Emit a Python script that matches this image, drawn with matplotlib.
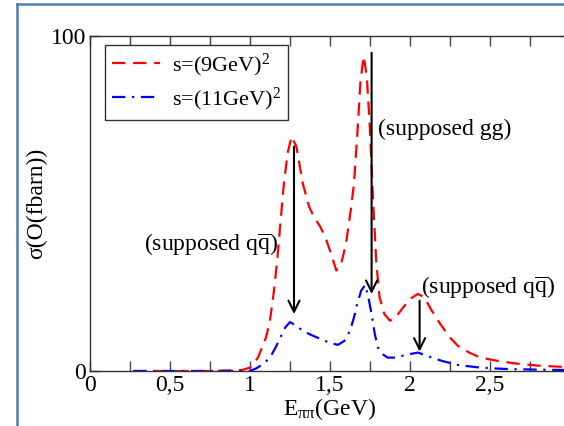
import numpy as np
import matplotlib
matplotlib.use('Agg')
from matplotlib import pyplot as plt
from matplotlib.lines import Line2D

# cross sections (fbarn) vs E_pipi (GeV)
x_9 = [0.27, 0.5, 0.75, 0.95, 1.0, 1.05, 1.1, 1.125, 1.15, 1.17, 1.19, 1.21, 1.235, 1.26,
       1.29, 1.33, 1.37, 1.40, 1.44, 1.47, 1.5, 1.54, 1.57, 1.6, 1.63, 1.65, 1.67, 1.69,
       1.71, 1.73, 1.75, 1.77, 1.79, 1.81, 1.84, 1.875, 1.91, 1.95, 2.0, 2.05, 2.09, 2.13,
       2.19, 2.25, 2.3, 2.37, 2.44, 2.55, 2.65, 2.8, 2.97]
y_9 = [0, 0, 0, 0.3, 1, 4, 10, 15, 24, 33, 44, 55, 65, 70,
       67, 56, 49, 46, 43, 40, 36, 30, 32, 38, 48, 56, 70, 86,
       94, 88, 72, 50, 32, 22, 17, 15, 16, 18.5, 21.5, 23, 22, 18.5,
       14, 10, 7.5, 5.5, 4, 3, 2.3, 1.6, 1.2]

x_11 = [0.27, 0.5, 0.75, 1.0, 1.04, 1.08, 1.125, 1.16, 1.19, 1.22, 1.25, 1.29, 1.33, 1.38,
        1.42, 1.47, 1.5, 1.55, 1.59, 1.625, 1.65, 1.67, 1.695, 1.72, 1.74, 1.76, 1.78, 1.8,
        1.83, 1.86, 1.92, 1.97, 2.05, 2.12, 2.2, 2.3, 2.44, 2.6, 2.8, 2.97]
y_11 = [0, 0, 0, 0, 0.8, 2, 4, 7, 10, 13, 14.6, 13.5, 12, 10.8,
        10, 9, 8.4, 7.8, 9, 12, 16, 20, 24, 25.7, 22, 17, 11, 7,
        5, 4, 4, 4.8, 5.5, 4.3, 3, 1.8, 1, 0.6, 0.4, 0.3]

labels = [r's=(9GeV)$^2$', r's=(11GeV)$^2$']
xtick_pos = [0, 0.5, 1, 1.5, 2, 2.5]
xtick_labels = ['0', '0,5', '1', '1,5', '2', '2,5']

# arrows: (x, y_start, y_tip)
arrows = [(1.275, 67, 17), (1.76, 95, 23), (2.06, 21, 5.8)]
notes = [(0.34, 36, r'(supposed q$\mathrm{\overline{q}}$)'),
         (1.8, 70.4, '(supposed gg)'),
         (2.07, 23.3, r'(supposed q$\mathrm{\overline{q}}$)')]

plt.rcParams['font.family'] = ['Liberation Serif', 'DejaVu Serif']
plt.rcParams['mathtext.fontset'] = 'custom'
plt.rcParams['mathtext.rm'] = 'Liberation Serif'
plt.rcParams['mathtext.it'] = 'Liberation Serif:italic'
plt.rcParams['font.size'] = 17

fig = plt.figure(figsize=(5.64, 4.26), dpi=100)
ax = fig.add_axes([90 / 564, 1 - 371 / 426, 480 / 564, 335 / 426])

ax.plot(x_9, y_9, color='red', lw=1.6, dashes=(6, 3.5), label=labels[0])
ax.plot(x_11, y_11, color='blue', lw=1.6, dashes=(6, 3, 1, 3), label=labels[1])

for xa, ys, yt in arrows:
    ax.annotate('', xy=(xa, yt), xytext=(xa, ys),
                arrowprops=dict(arrowstyle='->,head_length=0.5,head_width=0.25',
                                lw=1.5, color='black', shrinkA=0, shrinkB=0,
                                mutation_scale=16))
for xt, yt, s in notes:
    ax.text(xt, yt, s, ha='left', va='baseline', fontsize=17)

ax.set_xlim(0, 3)
ax.set_ylim(0, 100)
ax.set_xticks(xtick_pos)
ax.set_xticklabels(xtick_labels)
ax.set_xticks(np.arange(0.25, 3, 0.5), minor=True)
ax.set_yticks([0, 100])
ax.tick_params(which='both', direction='in', top=True, right=True, length=7,
               width=1, color='#444444', pad=3, labelsize=17)
for sp in ax.spines.values():
    sp.set_color('#333333')
    sp.set_linewidth(1)

ax.set_xlabel(r'E$_{\mathrm{\pi\pi}}$(GeV)', labelpad=0)
ax.set_ylabel('σ(O(fbarn))')
ax.yaxis.set_label_coords(-0.09, 0.5)

leg = ax.legend(loc='upper left', bbox_to_anchor=(0.031, 0.973), borderaxespad=0,
                fancybox=False, edgecolor='#333333', framealpha=1, handlelength=2.2,
                handletextpad=0.5, fontsize=16, borderpad=0.3, labelspacing=0.3)
leg.get_frame().set_linewidth(1)

# slide frame
fcol = '#4a7ebb'
fig.add_artist(Line2D([17 / 564, 17 / 564], [0, 1 - 4 / 426], color=fcol, lw=1.8,
                      transform=fig.transFigure))
fig.add_artist(Line2D([17 / 564, 1], [1 - 4 / 426, 1 - 4 / 426], color=fcol, lw=1.8,
                      transform=fig.transFigure))

plt.savefig('out.png', dpi=100)
